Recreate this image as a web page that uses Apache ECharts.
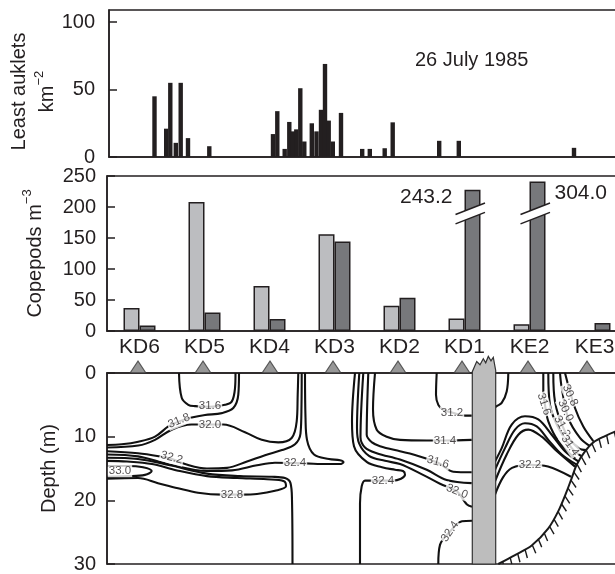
<!DOCTYPE html>
<html>
<head>
<meta charset="utf-8">
<script src="https://cdn.jsdelivr.net/npm/echarts@6/dist/echarts.min.js"></script>
<style>
    html, body {margin: 0; padding: 0; background: #fff;}
    #chart {width: 615px; height: 574px;}
</style>
</head>
<body>
<div id="chart"></div>
<script>
// least auklets along the transect: [distance, birds km-2]
var aukletBars = [
    [47.5, 45], [59.2, 21], [63.3, 55], [68.8, 10.5], [73.7, 55], [81, 14], [102.3, 8],
    [166, 17], [170.3, 34], [177.7, 6], [182.3, 26], [185.8, 19], [189.3, 20.5], [193.3, 51],
    [197.3, 11.5], [204.8, 25], [209.5, 19], [214, 35], [218, 69], [221.7, 27], [225.8, 11.5],
    [234, 32.7], [255.2, 6], [262.8, 6], [277.7, 6.5], [285.7, 25.7], [332.2, 12], [351.8, 12],
    [467, 6.8]
];

// copepods per station
var stations = ['KD6', 'KD5', 'KD4', 'KD3', 'KD2', 'KD1', 'KE2', 'KE3'];
var copepodLight = [37, 208, 72.5, 156, 40.6, 20, 11, '-'];
var copepodDark = [9, 30, 19.5, 144.5, 53.6, 243.2, 304.0, 13];
var brokenIndex = [5, 6];
var brokenTop = [228, 241];
var breakValue = 191;

// salinity section: station positions and contours [distance, depth m]
var stationDist = [31, 96, 163, 226, 291, 355, 421, 480];
var contours = [
    [[72, 0], [74.7, 3.9], [81.3, 5.0], [88, 5.2], [103, 5.3], [118, 5.0], [124.7, 4.5], [128, 2.4], [128.5, 0]],
    [[132, 0], [131.3, 3.4], [126.3, 5.5], [114.7, 6.3], [98, 6.6], [84.7, 7.0], [72, 7.6], [61.3, 8.4], [48, 10.0], [31.3, 10.8], [14.7, 11.2], [0, 11.3]],
    [[0, 11.7], [31.3, 11.4], [48, 10.5], [64.7, 8.9], [84.7, 8.1], [103, 8.1], [116.3, 8.1], [138, 9.3], [154.7, 10.5], [171.3, 10.9], [184.7, 10.2], [189.7, 7.6], [190.7, 3.4], [191.3, 0]],
    [[0, 12.3], [31, 12.6], [53, 13.1], [65, 13.5], [78, 14.3], [100, 15.0], [120, 14.9], [140, 13.9], [158, 12.9], [175, 12.1], [188, 11.2], [193.5, 9.5], [194.5, 5.0], [194.7, 0]],
    [[0, 12.8], [31, 13.1], [63, 14.4], [100, 15.4], [125, 15.3], [150, 14.5], [168, 14.1], [198, 14.2], [220, 14.3], [233, 14.3], [236.5, 14.0], [233, 13.7], [222, 13.5], [207, 12.8], [200, 10.5], [198.5, 7.0], [198, 0]],
    [[0, 13.3], [31, 13.5], [63, 14.5], [100, 15.8], [133, 16.2], [165, 16.3], [178, 16.5], [183.5, 17.3], [185, 20], [185.5, 30]],
    [[0, 16.6], [31, 16.5], [51, 17.3], [71, 18.1], [91, 18.8], [115, 19.1], [135, 19.1], [150, 19.0], [168, 18.5], [179, 17.8], [177, 17.0], [160, 16.7], [130, 16.5], [100, 16.2], [70, 15.3], [45, 14.3], [20, 13.9], [0, 13.8]],
    [[0, 14.6], [20, 14.6], [36, 14.8], [44.7, 15.4], [38, 16.0], [20, 16.2], [0, 16.3]],
    [[253, 30], [253, 20.5], [254.7, 17.8], [258, 16.9], [266, 16.9], [286, 16.9], [294, 16.6], [298, 16.0], [296, 15.4], [288, 15.2], [275, 14.8], [260, 14.0], [247, 11.5], [245, 7.6], [248, 0]],
    [[252.3, 0], [250, 8.6], [252, 11.0], [262, 13.0], [278, 13.8], [293, 14.3], [316, 16.0], [333, 17.4], [350, 18.6], [359.7, 20.6], [365, 21.0]],
    [[256.3, 0], [253.5, 10.1], [258, 11.7], [269.7, 12.6], [293, 13.6], [319.7, 15.2], [339.7, 16.8], [364.7, 17.3]],
    [[261.3, 0], [259.7, 9.7], [265, 10.9], [273, 11.5], [293, 12.3], [306.3, 12.8], [331, 14.1], [346.3, 15.5], [364.7, 15.6]],
    [[268, 0], [266, 5.7], [269.7, 8.9], [279.7, 10.0], [293, 10.5], [319.7, 10.6], [338, 10.6], [364.7, 10.5]],
    [[329.7, 0], [329, 3.4], [331.3, 5.0], [336.3, 5.8], [345, 6.2], [358, 6.7], [364.7, 6.7]],
    [[331.3, 30], [333, 27], [343, 24.9], [355, 23.3], [365, 23.2]],
    [[401.3, 0], [399.7, 2.9], [394.7, 4.7], [389.7, 5.2], [388, 5.4]],
    [[388, 13.9], [394.7, 11.8], [404.7, 8.1], [418, 6.8], [431.3, 7.3], [444.7, 9.7], [458, 12.3], [471.3, 13.9]],
    [[388, 15.2], [398, 11.8], [408, 8.9], [418, 7.9], [429.7, 8.4], [441.3, 10.5], [454.7, 12.8], [469.7, 14.4]],
    [[388, 17.0], [399.7, 12.8], [411.3, 9.7], [421.3, 8.9], [434.7, 10.0], [448, 12.0], [468, 14.7]],
    [[388, 19.1], [396, 16.4], [405, 14.9], [423, 14.4], [441, 14.7], [464, 16.3]],
    [[436.3, 0], [436.3, 2.9], [438, 5.0], [441.3, 7.6], [451.3, 10.7], [468, 13.4]],
    [[441.3, 0], [443, 5.0], [451.3, 8.6], [464.7, 11.8], [474.7, 13.1]],
    [[446.3, 0], [448, 4.5], [458, 9.2], [471.3, 11.8], [479.7, 12.1]],
    [[453, 0], [454.7, 2.3], [461.3, 7.1], [473, 10.2], [483, 11.5]],
    [[458, 0], [468, 5.5], [476.3, 8.4], [486.3, 10.7]]
];
// [distance, depth, text, rotation]
var contourLabels = [
    [103, 5.2, '31.6', 0], [72, 7.5, '31.8', 22], [103, 8.1, '32.0', 0], [64.7, 13.3, '32.2', -15],
    [13, 15.4, '33.0', 0], [188, 14.1, '32.4', 0], [125, 19.2, '32.8', 0], [345, 6.2, '31.2', 0],
    [338, 10.6, '31.4', 0], [331, 14.0, '31.6', -15], [276, 16.9, '32.4', 0], [350, 18.6, '32.0', -22],
    [343, 24.9, '32.4', 55], [423, 14.4, '32.2', 0], [437, 4.9, '31.6', -72], [463, 3.5, '30.8', -65],
    [458.5, 5.9, '30.0', -65], [455, 8.4, '31.2', -62], [463, 11.4, '31.4', -55]
];
var landShape = [[365.3, 30], [365.3, -0.2], [369.7, -1.8], [373, -1.3], [376.3, -2.25], [378.7, -1.6],
    [381.3, -2.6], [384, -1.9], [386.3, -2.45], [388.7, -0.4], [388.7, 30]];
var seafloor = [[391.3, 30], [408, 28.6], [424.7, 27.1], [441.3, 24.4], [451.3, 21.7], [459.7, 18.6],
    [464.7, 16.5], [469.7, 14.4], [478, 12.3], [486.3, 10.9], [498, 9.9], [508, 9.2], [520, 8.6]];

var font = 'Liberation Sans, Arial, sans-serif';
var ink = '#231f20';
var axisLine = {show: true, lineStyle: {color: ink, width: 1.5}};
var tick = {show: true, inside: true, length: 8, lineStyle: {color: ink, width: 1.5}};
var tickLabel = {fontSize: 20, color: ink, fontFamily: font, margin: 12};
var gridBox = {show: true, borderColor: ink, borderWidth: 1.5, outerBoundsMode: 'none', containLabel: false};
var supRich = {
    a: {fontSize: 20, lineHeight: 28, fontFamily: font, color: ink},
    s: {fontSize: 13, lineHeight: 28, verticalAlign: 'top', fontFamily: font, color: ink}
};

var darkDrawn = copepodDark.map(function (v, i) {
    var k = brokenIndex.indexOf(i);
    if (k < 0) return v;
    return {
        value: brokenTop[k],
        label: {
            show: true,
            formatter: copepodDark[i].toFixed(1),
            position: k === 0 ? [-12, 8] : [25, 12],
            align: k === 0 ? 'right' : 'left',
            verticalAlign: 'middle',
            fontSize: 21, color: ink, fontFamily: font
        }
    };
});

function renderBreak(params, api) {
    var c = api.coord([api.value(0), api.value(1)]);
    var left = c[0], mid = c[0] + 8, yc = c[1];
    var s = -11.3 / 29, half = 4.7;
    function yAt(x, off) { return yc + off + s * (x - mid); }
    var x0 = left - 9, x1 = left + 20.5;
    var stroke = {stroke: ink, lineWidth: 1.5};
    return {
        type: 'group',
        children: [
            {type: 'polygon', shape: {points: [[left - 1, yAt(left - 1, -half)], [left + 17, yAt(left + 17, -half)],
                [left + 17, yAt(left + 17, half)], [left - 1, yAt(left - 1, half)]]}, style: {fill: '#fff'}},
            {type: 'line', shape: {x1: x0, y1: yAt(x0, -half), x2: x1, y2: yAt(x1, -half)}, style: stroke},
            {type: 'line', shape: {x1: x0, y1: yAt(x0, half), x2: x1, y2: yAt(x1, half)}, style: stroke}
        ]
    };
}

function renderLand(params, api) {
    return {
        type: 'polygon',
        shape: {points: landShape.map(function (p) { return api.coord(p); })},
        style: {fill: '#bdbdbd', stroke: '#333', lineWidth: 1.2}
    };
}

function renderSeafloor(params, api) {
    var pts = seafloor.map(function (p) { return api.coord(p); });
    var bottom = api.coord([0, 30])[1];
    var children = [{type: 'polyline', shape: {points: pts, smooth: 0.3}, style: {stroke: '#1a1a1a', lineWidth: 2, fill: null}}];
    var step = 8.5, next = 5, acc = 0;
    for (var i = 1; i < pts.length; i++) {
        var dx = pts[i][0] - pts[i - 1][0], dy = pts[i][1] - pts[i - 1][1];
        var len = Math.sqrt(dx * dx + dy * dy);
        while (next <= acc + len) {
            var t = (next - acc) / len;
            var x = pts[i - 1][0] + dx * t, y = pts[i - 1][1] + dy * t;
            var nx = -dy / len, ny = dx / len;
            if (ny < 0) { nx = -nx; ny = -ny; }
            var hx = nx, hy = ny + 1, hl = Math.sqrt(hx * hx + hy * hy);
            hx /= hl; hy /= hl;
            var L = Math.min(9, (bottom - y) / hy);
            if (L > 2) {
                children.push({type: 'line', shape: {x1: x, y1: y, x2: x + hx * L, y2: y + hy * L},
                    style: {stroke: '#1a1a1a', lineWidth: 1.4}});
            }
            next += step;
        }
        acc += len;
    }
    return {type: 'group', children: children};
}

var series = [
    {
        type: 'bar', xAxisIndex: 0, yAxisIndex: 0,
        data: aukletBars, barWidth: 4.4,
        itemStyle: {color: ink}
    },
    {
        type: 'bar', xAxisIndex: 1, yAxisIndex: 1,
        data: copepodLight, barWidth: 16, barGap: '0%',
        itemStyle: {color: '#bcbdc0', borderColor: ink, borderWidth: 1.5}
    },
    {
        type: 'bar', xAxisIndex: 1, yAxisIndex: 1,
        data: darkDrawn, barWidth: 16, barGap: '0%',
        itemStyle: {color: '#77787b', borderColor: ink, borderWidth: 1.5}
    },
    {
        type: 'custom', xAxisIndex: 1, yAxisIndex: 1, clip: false, z: 5,
        data: brokenIndex.map(function (i) { return [i, breakValue]; }),
        renderItem: renderBreak
    }
];

contours.forEach(function (c) {
    series.push({
        type: 'line', xAxisIndex: 2, yAxisIndex: 2, data: c,
        smooth: 0.35, symbol: 'none', silent: true, z: 3,
        lineStyle: {color: '#111', width: 2.1}
    });
});

series.push({
    type: 'scatter', xAxisIndex: 2, yAxisIndex: 2, z: 4, symbolSize: 1,
    itemStyle: {color: 'rgba(0,0,0,0)'},
    label: {show: true, position: 'inside', fontSize: 11.5, color: ink, fontFamily: font,
        backgroundColor: '#fff', padding: [0, 1]},
    data: contourLabels.map(function (l) {
        return {value: [l[0], l[1]], label: {formatter: l[2], rotate: l[3]}};
    })
});

series.push({
    type: 'custom', xAxisIndex: 2, yAxisIndex: 2, clip: false, z: 6,
    data: [[0, 0]], renderItem: renderLand
});
series.push({
    type: 'custom', xAxisIndex: 2, yAxisIndex: 2, clip: false, z: 6,
    data: [[0, 0]], renderItem: renderSeafloor
});
series.push({
    type: 'scatter', xAxisIndex: 2, yAxisIndex: 2, clip: false, z: 7,
    data: stationDist.map(function (x) { return [x, 0]; }),
    symbol: 'triangle', symbolSize: [16, 12], symbolOffset: [0, -6],
    itemStyle: {color: '#7d7d7d', borderColor: '#3a3a3a', borderWidth: 1}
});

var option = {
    animation: false,
    backgroundColor: '#fff',
    textStyle: {fontFamily: font},
    title: {
        text: '26 July 1985', left: 415, top: 50, padding: 0,
        textStyle: {fontSize: 20, fontWeight: 'normal', color: ink, fontFamily: font}
    },
    series: series
};

option.grid = [
    Object.assign({left: 109, top: 10, width: 520, height: 147}, gridBox),
    Object.assign({left: 107, top: 176, width: 520, height: 155}, gridBox),
    Object.assign({left: 107, top: 373, width: 520, height: 191}, gridBox)
];

option.xAxis = [
    {gridIndex: 0, type: 'value', min: 2, max: 522, axisLine: axisLine,
        axisTick: {show: false}, axisLabel: {show: false}, splitLine: {show: false}},
    {gridIndex: 1, type: 'category', data: stations, axisLine: axisLine,
        axisTick: {show: false}, axisLabel: Object.assign({}, tickLabel, {margin: 6, fontSize: 21}), splitLine: {show: false}},
    {gridIndex: 2, type: 'value', min: 0, max: 520, axisLine: axisLine,
        axisTick: {show: false}, axisLabel: {show: false}, splitLine: {show: false}}
];

option.yAxis = [
    {gridIndex: 0, type: 'value', min: 0, max: 109, interval: 50,
        name: '{a|Least auklets}\n{a|km}{s|−2}', nameLocation: 'middle', nameGap: 48, nameMoveOverlap: false,
        nameTextStyle: {rich: supRich, padding: [0, 16, 0, 0]},
        axisLine: axisLine, axisTick: tick, axisLabel: Object.assign({}, tickLabel, {showMaxLabel: false, margin: 14}),
        splitLine: {show: false}},
    {gridIndex: 1, type: 'value', min: 0, max: 250, interval: 50,
        name: '{a|Copepods m}{s|−3}', nameLocation: 'middle', nameGap: 58, nameMoveOverlap: false,
        nameTextStyle: {rich: supRich},
        axisLine: axisLine, axisTick: tick, axisLabel: Object.assign({}, tickLabel, {margin: 11}),
        splitLine: {show: false}},
    {gridIndex: 2, type: 'value', min: 0, max: 30, interval: 10, inverse: true,
        name: 'Depth (m)', nameLocation: 'middle', nameGap: 48, nameMoveOverlap: false,
        nameTextStyle: {fontSize: 20, color: ink, fontFamily: font},
        axisLine: axisLine, axisTick: tick, axisLabel: Object.assign({}, tickLabel, {margin: 11}),
        splitLine: {show: false}}
];

var chart = echarts.init(document.getElementById('chart'));
chart.setOption(option);
</script>
</body>
</html>
